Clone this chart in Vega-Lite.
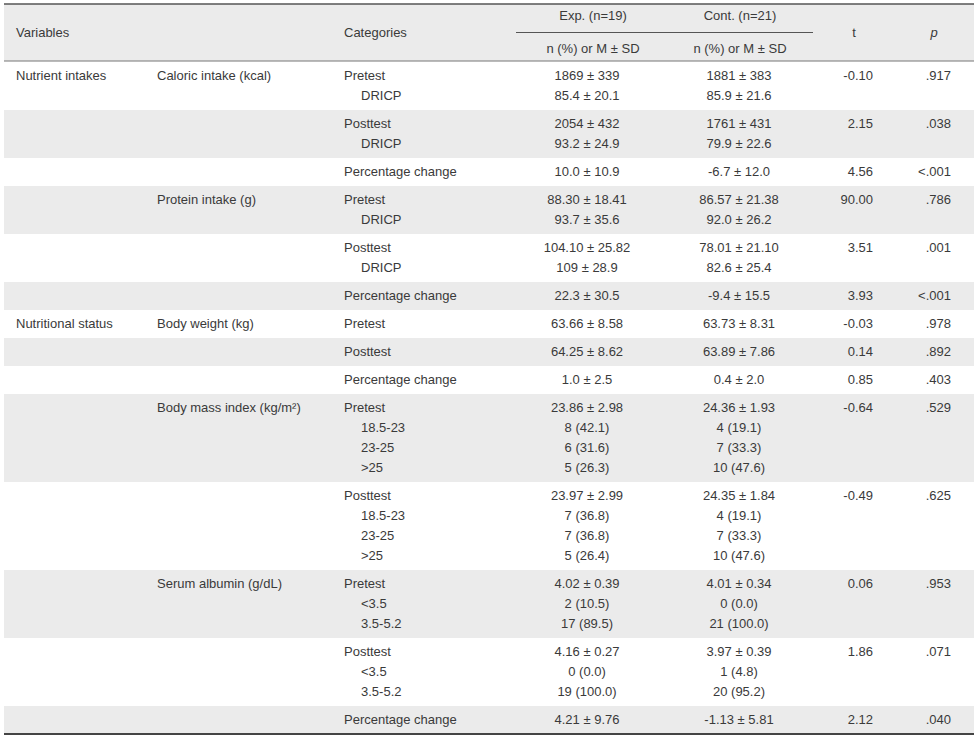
{
  "$schema": "https://vega.github.io/schema/vega-lite/v6.json",
  "padding": {"left": 3, "top": 3, "right": 4, "bottom": 0},
  "background": "white",
  "config": {
    "view": {"stroke": null},
    "text": {"font": "Liberation Sans", "fontSize": 13, "fill": "#3a3a3a", "baseline": "middle"}
  },
  "spacing": 0,
  "resolve": {"scale": {"x": "independent", "y": "independent", "fill": "independent"}},
  "vconcat": [
    {
      "width": 970,
      "height": 57,
      "layer": [
        {
          "data": {"values": [{}]},
          "mark": {"type": "rect", "fill": "#ebebeb"},
          "encoding": {"x": {"value": 0}, "x2": {"value": "width"}, "y": {"value": 0}, "y2": {"value": "height"}}
        },
        {
          "data": {"values": [{}]},
          "mark": {"type": "rule", "stroke": "#555555", "strokeWidth": 1.5},
          "encoding": {"x": {"value": 0}, "x2": {"value": "width"}, "y": {"value": 0}}
        },
        {
          "data": {"values": [{}]},
          "mark": {"type": "rule", "stroke": "#777777", "strokeWidth": 1},
          "encoding": {"x": {"value": 0}, "x2": {"value": "width"}, "y": {"value": "height"}}
        },
        {
          "data": {"values": [{"c": 2.5, "c2": 4.5, "l": 1}]},
          "mark": {"type": "rule", "stroke": "#555555", "strokeWidth": 1},
          "encoding": {
            "x": {"field": "c", "type": "quantitative", "scale": {"domain": [1, 2, 2.5, 3, 4, 4.5, 5, 6], "range": [12, 340, 512, 589, 736, 809, 850, 930], "nice": false, "zero": false}, "axis": null},
            "x2": {"field": "c2"},
            "y": {"field": "l", "type": "ordinal", "scale": {"type": "point", "padding": 0.78, "domain": [0, 1, 2]}, "axis": null}
          }
        },
        {
          "data": {"name": "head"},
          "transform": [{"filter": "datum.c <= 2"}],
          "mark": {"type": "text", "align": "left"},
          "encoding": {
            "x": {"field": "c", "type": "quantitative", "scale": {"domain": [1, 2, 2.5, 3, 4, 4.5, 5, 6], "range": [12, 340, 512, 589, 736, 809, 850, 930], "nice": false, "zero": false}, "axis": null},
            "y": {"field": "l", "type": "ordinal", "scale": {"type": "point", "padding": 0.78, "domain": [0, 1, 2]}, "axis": null},
            "text": {"field": "t"}
          }
        },
        {
          "data": {"name": "head"},
          "transform": [{"filter": "datum.c >= 3 && datum.t != 'p'"}],
          "mark": {"type": "text", "align": "center"},
          "encoding": {
            "x": {"field": "c", "type": "quantitative", "scale": {"domain": [1, 2, 2.5, 3, 4, 4.5, 5, 6], "range": [12, 340, 512, 589, 736, 809, 850, 930], "nice": false, "zero": false}, "axis": null},
            "y": {"field": "l", "type": "ordinal", "scale": {"type": "point", "padding": 0.78, "domain": [0, 1, 2]}, "axis": null},
            "text": {"field": "t"}
          }
        },
        {
          "data": {"name": "head"},
          "transform": [{"filter": "datum.t == 'p'"}],
          "mark": {"type": "text", "align": "center", "fontStyle": "italic"},
          "encoding": {
            "x": {"field": "c", "type": "quantitative", "scale": {"domain": [1, 2, 2.5, 3, 4, 4.5, 5, 6], "range": [12, 340, 512, 589, 736, 809, 850, 930], "nice": false, "zero": false}, "axis": null},
            "y": {"field": "l", "type": "ordinal", "scale": {"type": "point", "padding": 0.78, "domain": [0, 1, 2]}, "axis": null},
            "text": {"field": "t"}
          }
        }
      ]
    },
    {
      "data": {"name": "body"},
      "facet": {"row": {"field": "r", "type": "ordinal", "header": null}},
      "spacing": 0,
      "resolve": {"scale": {"y": "independent"}},
      "spec": {
        "width": 970,
        "height": {"step": 20},
        "layer": [
          {
            "mark": {"type": "rect"},
            "encoding": {
              "x": {"value": 0}, "x2": {"value": "width"}, "y": {"value": 0}, "y2": {"value": "height"},
              "fill": {"field": "r", "type": "ordinal", "scale": {"domain": [1, 2, 3, 4, 5, 6, 7, 8, 9, 10, 11, 12, 13, 14], "range": ["#ffffff", "#ebebeb", "#ffffff", "#ebebeb", "#ffffff", "#ebebeb", "#ffffff", "#ebebeb", "#ffffff", "#ebebeb", "#ffffff", "#ebebeb", "#ffffff", "#ebebeb"]}, "legend": null}
            }
          },
          {
            "transform": [{"filter": "datum.c <= 4"}],
            "mark": {"type": "text", "align": "left"},
            "encoding": {
              "x": {"field": "c", "type": "quantitative", "scale": {"domain": [1, 2, 3, 4, 5, 6, 7, 8], "range": [12, 153, 340, 357, 583, 735, 869, 947], "nice": false, "zero": false}, "axis": null},
              "y": {"field": "l", "type": "ordinal", "scale": {"type": "point", "padding": 0.7}, "axis": null},
              "text": {"field": "t"}
            }
          },
          {
            "transform": [{"filter": "datum.c == 5 || datum.c == 6"}],
            "mark": {"type": "text", "align": "center"},
            "encoding": {
              "x": {"field": "c", "type": "quantitative", "scale": {"domain": [1, 2, 3, 4, 5, 6, 7, 8], "range": [12, 153, 340, 357, 583, 735, 869, 947], "nice": false, "zero": false}, "axis": null},
              "y": {"field": "l", "type": "ordinal", "scale": {"type": "point", "padding": 0.7}, "axis": null},
              "text": {"field": "t"}
            }
          },
          {
            "transform": [{"filter": "datum.c >= 7"}],
            "mark": {"type": "text", "align": "right"},
            "encoding": {
              "x": {"field": "c", "type": "quantitative", "scale": {"domain": [1, 2, 3, 4, 5, 6, 7, 8], "range": [12, 153, 340, 357, 583, 735, 869, 947], "nice": false, "zero": false}, "axis": null},
              "y": {"field": "l", "type": "ordinal", "scale": {"type": "point", "padding": 0.7}, "axis": null},
              "text": {"field": "t"}
            }
          },
          {
            "transform": [{"filter": "datum.r == 14"}],
            "mark": {"type": "rule", "stroke": "#444444", "strokeWidth": 1.5},
            "encoding": {"x": {"value": 0}, "x2": {"value": "width"}, "y": {"value": "height"}}
          }
        ]
      }
    }
  ],
  "datasets": {
    "head": [
      {"c": 1, "l": 1, "t": "Variables"},
      {"c": 2, "l": 1, "t": "Categories"},
      {"c": 3, "l": 0, "t": "Exp. (n=19)"},
      {"c": 4, "l": 0, "t": "Cont. (n=21)"},
      {"c": 3, "l": 2, "t": "n (%) or M ± SD"},
      {"c": 4, "l": 2, "t": "n (%) or M ± SD"},
      {"c": 5, "l": 1, "t": "t"},
      {"c": 6, "l": 1, "t": "p"}
    ],
    "body": [
      {"r": 1, "l": 0, "c": 1, "t": "Nutrient intakes"},
      {"r": 1, "l": 0, "c": 2, "t": "Caloric intake (kcal)"},
      {"r": 1, "l": 0, "c": 3, "t": "Pretest"},
      {"r": 1, "l": 0, "c": 5, "t": "1869 ± 339"},
      {"r": 1, "l": 0, "c": 6, "t": "1881 ± 383"},
      {"r": 1, "l": 0, "c": 7, "t": "-0.10"},
      {"r": 1, "l": 0, "c": 8, "t": ".917"},
      {"r": 1, "l": 1, "c": 4, "t": "DRICP"},
      {"r": 1, "l": 1, "c": 5, "t": "85.4 ± 20.1"},
      {"r": 1, "l": 1, "c": 6, "t": "85.9 ± 21.6"},
      {"r": 2, "l": 0, "c": 3, "t": "Posttest"},
      {"r": 2, "l": 0, "c": 5, "t": "2054 ± 432"},
      {"r": 2, "l": 0, "c": 6, "t": "1761 ± 431"},
      {"r": 2, "l": 0, "c": 7, "t": "2.15"},
      {"r": 2, "l": 0, "c": 8, "t": ".038"},
      {"r": 2, "l": 1, "c": 4, "t": "DRICP"},
      {"r": 2, "l": 1, "c": 5, "t": "93.2 ± 24.9"},
      {"r": 2, "l": 1, "c": 6, "t": "79.9 ± 22.6"},
      {"r": 3, "l": 0, "c": 3, "t": "Percentage change"},
      {"r": 3, "l": 0, "c": 5, "t": "10.0 ± 10.9"},
      {"r": 3, "l": 0, "c": 6, "t": "-6.7 ± 12.0"},
      {"r": 3, "l": 0, "c": 7, "t": "4.56"},
      {"r": 3, "l": 0, "c": 8, "t": "<.001"},
      {"r": 4, "l": 0, "c": 2, "t": "Protein intake (g)"},
      {"r": 4, "l": 0, "c": 3, "t": "Pretest"},
      {"r": 4, "l": 0, "c": 5, "t": "88.30 ± 18.41"},
      {"r": 4, "l": 0, "c": 6, "t": "86.57 ± 21.38"},
      {"r": 4, "l": 0, "c": 7, "t": "90.00"},
      {"r": 4, "l": 0, "c": 8, "t": ".786"},
      {"r": 4, "l": 1, "c": 4, "t": "DRICP"},
      {"r": 4, "l": 1, "c": 5, "t": "93.7 ± 35.6"},
      {"r": 4, "l": 1, "c": 6, "t": "92.0 ± 26.2"},
      {"r": 5, "l": 0, "c": 3, "t": "Posttest"},
      {"r": 5, "l": 0, "c": 5, "t": "104.10 ± 25.82"},
      {"r": 5, "l": 0, "c": 6, "t": "78.01 ± 21.10"},
      {"r": 5, "l": 0, "c": 7, "t": "3.51"},
      {"r": 5, "l": 0, "c": 8, "t": ".001"},
      {"r": 5, "l": 1, "c": 4, "t": "DRICP"},
      {"r": 5, "l": 1, "c": 5, "t": "109 ± 28.9"},
      {"r": 5, "l": 1, "c": 6, "t": "82.6 ± 25.4"},
      {"r": 6, "l": 0, "c": 3, "t": "Percentage change"},
      {"r": 6, "l": 0, "c": 5, "t": "22.3 ± 30.5"},
      {"r": 6, "l": 0, "c": 6, "t": "-9.4 ± 15.5"},
      {"r": 6, "l": 0, "c": 7, "t": "3.93"},
      {"r": 6, "l": 0, "c": 8, "t": "<.001"},
      {"r": 7, "l": 0, "c": 1, "t": "Nutritional status"},
      {"r": 7, "l": 0, "c": 2, "t": "Body weight (kg)"},
      {"r": 7, "l": 0, "c": 3, "t": "Pretest"},
      {"r": 7, "l": 0, "c": 5, "t": "63.66 ± 8.58"},
      {"r": 7, "l": 0, "c": 6, "t": "63.73 ± 8.31"},
      {"r": 7, "l": 0, "c": 7, "t": "-0.03"},
      {"r": 7, "l": 0, "c": 8, "t": ".978"},
      {"r": 8, "l": 0, "c": 3, "t": "Posttest"},
      {"r": 8, "l": 0, "c": 5, "t": "64.25 ± 8.62"},
      {"r": 8, "l": 0, "c": 6, "t": "63.89 ± 7.86"},
      {"r": 8, "l": 0, "c": 7, "t": "0.14"},
      {"r": 8, "l": 0, "c": 8, "t": ".892"},
      {"r": 9, "l": 0, "c": 3, "t": "Percentage change"},
      {"r": 9, "l": 0, "c": 5, "t": "1.0 ± 2.5"},
      {"r": 9, "l": 0, "c": 6, "t": "0.4 ± 2.0"},
      {"r": 9, "l": 0, "c": 7, "t": "0.85"},
      {"r": 9, "l": 0, "c": 8, "t": ".403"},
      {"r": 10, "l": 0, "c": 2, "t": "Body mass  index (kg/m²)"},
      {"r": 10, "l": 0, "c": 3, "t": "Pretest"},
      {"r": 10, "l": 0, "c": 5, "t": "23.86 ± 2.98"},
      {"r": 10, "l": 0, "c": 6, "t": "24.36 ± 1.93"},
      {"r": 10, "l": 0, "c": 7, "t": "-0.64"},
      {"r": 10, "l": 0, "c": 8, "t": ".529"},
      {"r": 10, "l": 1, "c": 4, "t": "18.5-23"},
      {"r": 10, "l": 1, "c": 5, "t": "8 (42.1)"},
      {"r": 10, "l": 1, "c": 6, "t": "4 (19.1)"},
      {"r": 10, "l": 2, "c": 4, "t": "23-25"},
      {"r": 10, "l": 2, "c": 5, "t": "6 (31.6)"},
      {"r": 10, "l": 2, "c": 6, "t": "7 (33.3)"},
      {"r": 10, "l": 3, "c": 4, "t": ">25"},
      {"r": 10, "l": 3, "c": 5, "t": "5 (26.3)"},
      {"r": 10, "l": 3, "c": 6, "t": "10 (47.6)"},
      {"r": 11, "l": 0, "c": 3, "t": "Posttest"},
      {"r": 11, "l": 0, "c": 5, "t": "23.97 ± 2.99"},
      {"r": 11, "l": 0, "c": 6, "t": "24.35 ± 1.84"},
      {"r": 11, "l": 0, "c": 7, "t": "-0.49"},
      {"r": 11, "l": 0, "c": 8, "t": ".625"},
      {"r": 11, "l": 1, "c": 4, "t": "18.5-23"},
      {"r": 11, "l": 1, "c": 5, "t": "7 (36.8)"},
      {"r": 11, "l": 1, "c": 6, "t": "4 (19.1)"},
      {"r": 11, "l": 2, "c": 4, "t": "23-25"},
      {"r": 11, "l": 2, "c": 5, "t": "7 (36.8)"},
      {"r": 11, "l": 2, "c": 6, "t": "7 (33.3)"},
      {"r": 11, "l": 3, "c": 4, "t": ">25"},
      {"r": 11, "l": 3, "c": 5, "t": "5 (26.4)"},
      {"r": 11, "l": 3, "c": 6, "t": "10 (47.6)"},
      {"r": 12, "l": 0, "c": 2, "t": "Serum albumin (g/dL)"},
      {"r": 12, "l": 0, "c": 3, "t": "Pretest"},
      {"r": 12, "l": 0, "c": 5, "t": "4.02 ± 0.39"},
      {"r": 12, "l": 0, "c": 6, "t": "4.01 ± 0.34"},
      {"r": 12, "l": 0, "c": 7, "t": "0.06"},
      {"r": 12, "l": 0, "c": 8, "t": ".953"},
      {"r": 12, "l": 1, "c": 4, "t": "<3.5"},
      {"r": 12, "l": 1, "c": 5, "t": "2 (10.5)"},
      {"r": 12, "l": 1, "c": 6, "t": "0 (0.0)"},
      {"r": 12, "l": 2, "c": 4, "t": "3.5-5.2"},
      {"r": 12, "l": 2, "c": 5, "t": "17 (89.5)"},
      {"r": 12, "l": 2, "c": 6, "t": "21 (100.0)"},
      {"r": 13, "l": 0, "c": 3, "t": "Posttest"},
      {"r": 13, "l": 0, "c": 5, "t": "4.16 ± 0.27"},
      {"r": 13, "l": 0, "c": 6, "t": "3.97 ± 0.39"},
      {"r": 13, "l": 0, "c": 7, "t": "1.86"},
      {"r": 13, "l": 0, "c": 8, "t": ".071"},
      {"r": 13, "l": 1, "c": 4, "t": "<3.5"},
      {"r": 13, "l": 1, "c": 5, "t": "0 (0.0)"},
      {"r": 13, "l": 1, "c": 6, "t": "1 (4.8)"},
      {"r": 13, "l": 2, "c": 4, "t": "3.5-5.2"},
      {"r": 13, "l": 2, "c": 5, "t": "19 (100.0)"},
      {"r": 13, "l": 2, "c": 6, "t": "20 (95.2)"},
      {"r": 14, "l": 0, "c": 3, "t": "Percentage change"},
      {"r": 14, "l": 0, "c": 5, "t": "4.21 ± 9.76"},
      {"r": 14, "l": 0, "c": 6, "t": "-1.13 ± 5.81"},
      {"r": 14, "l": 0, "c": 7, "t": "2.12"},
      {"r": 14, "l": 0, "c": 8, "t": ".040"}
    ]
  }
}
